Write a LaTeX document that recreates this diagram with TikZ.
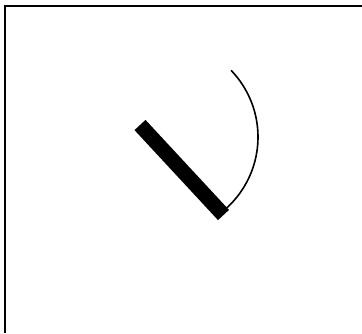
\documentclass[tikz,border=0pt]{standalone}
\usetikzlibrary{calc}

\begin{document}
\begin{tikzpicture}[x=1pt, y=-1pt,
        % Styles
        frame/.style={draw=black, line width=2pt},
        rod/.style={draw=black, line width=15pt},
        swing/.style={draw=black, line width=1.6pt}
    ]
    \useasboundingbox (0,0) rectangle (362,333);

    % --- Frame (top and left edges only) ---
    \draw[frame] (362,6) -- (5,6) -- (5,333);

    % --- Rod ---
    \coordinate (rodtop) at (140,125);
    \coordinate (rodend) at (223.5,215);
    \draw[rod] (rodtop) -- (rodend);

    % --- Arc of the swing (y axis points down) ---
    \coordinate (pivot) at (162,137);
    \draw[swing] ($(pivot)+(48:96)$) arc[start angle=48, end angle=-44, radius=96];
\end{tikzpicture}
\end{document}
